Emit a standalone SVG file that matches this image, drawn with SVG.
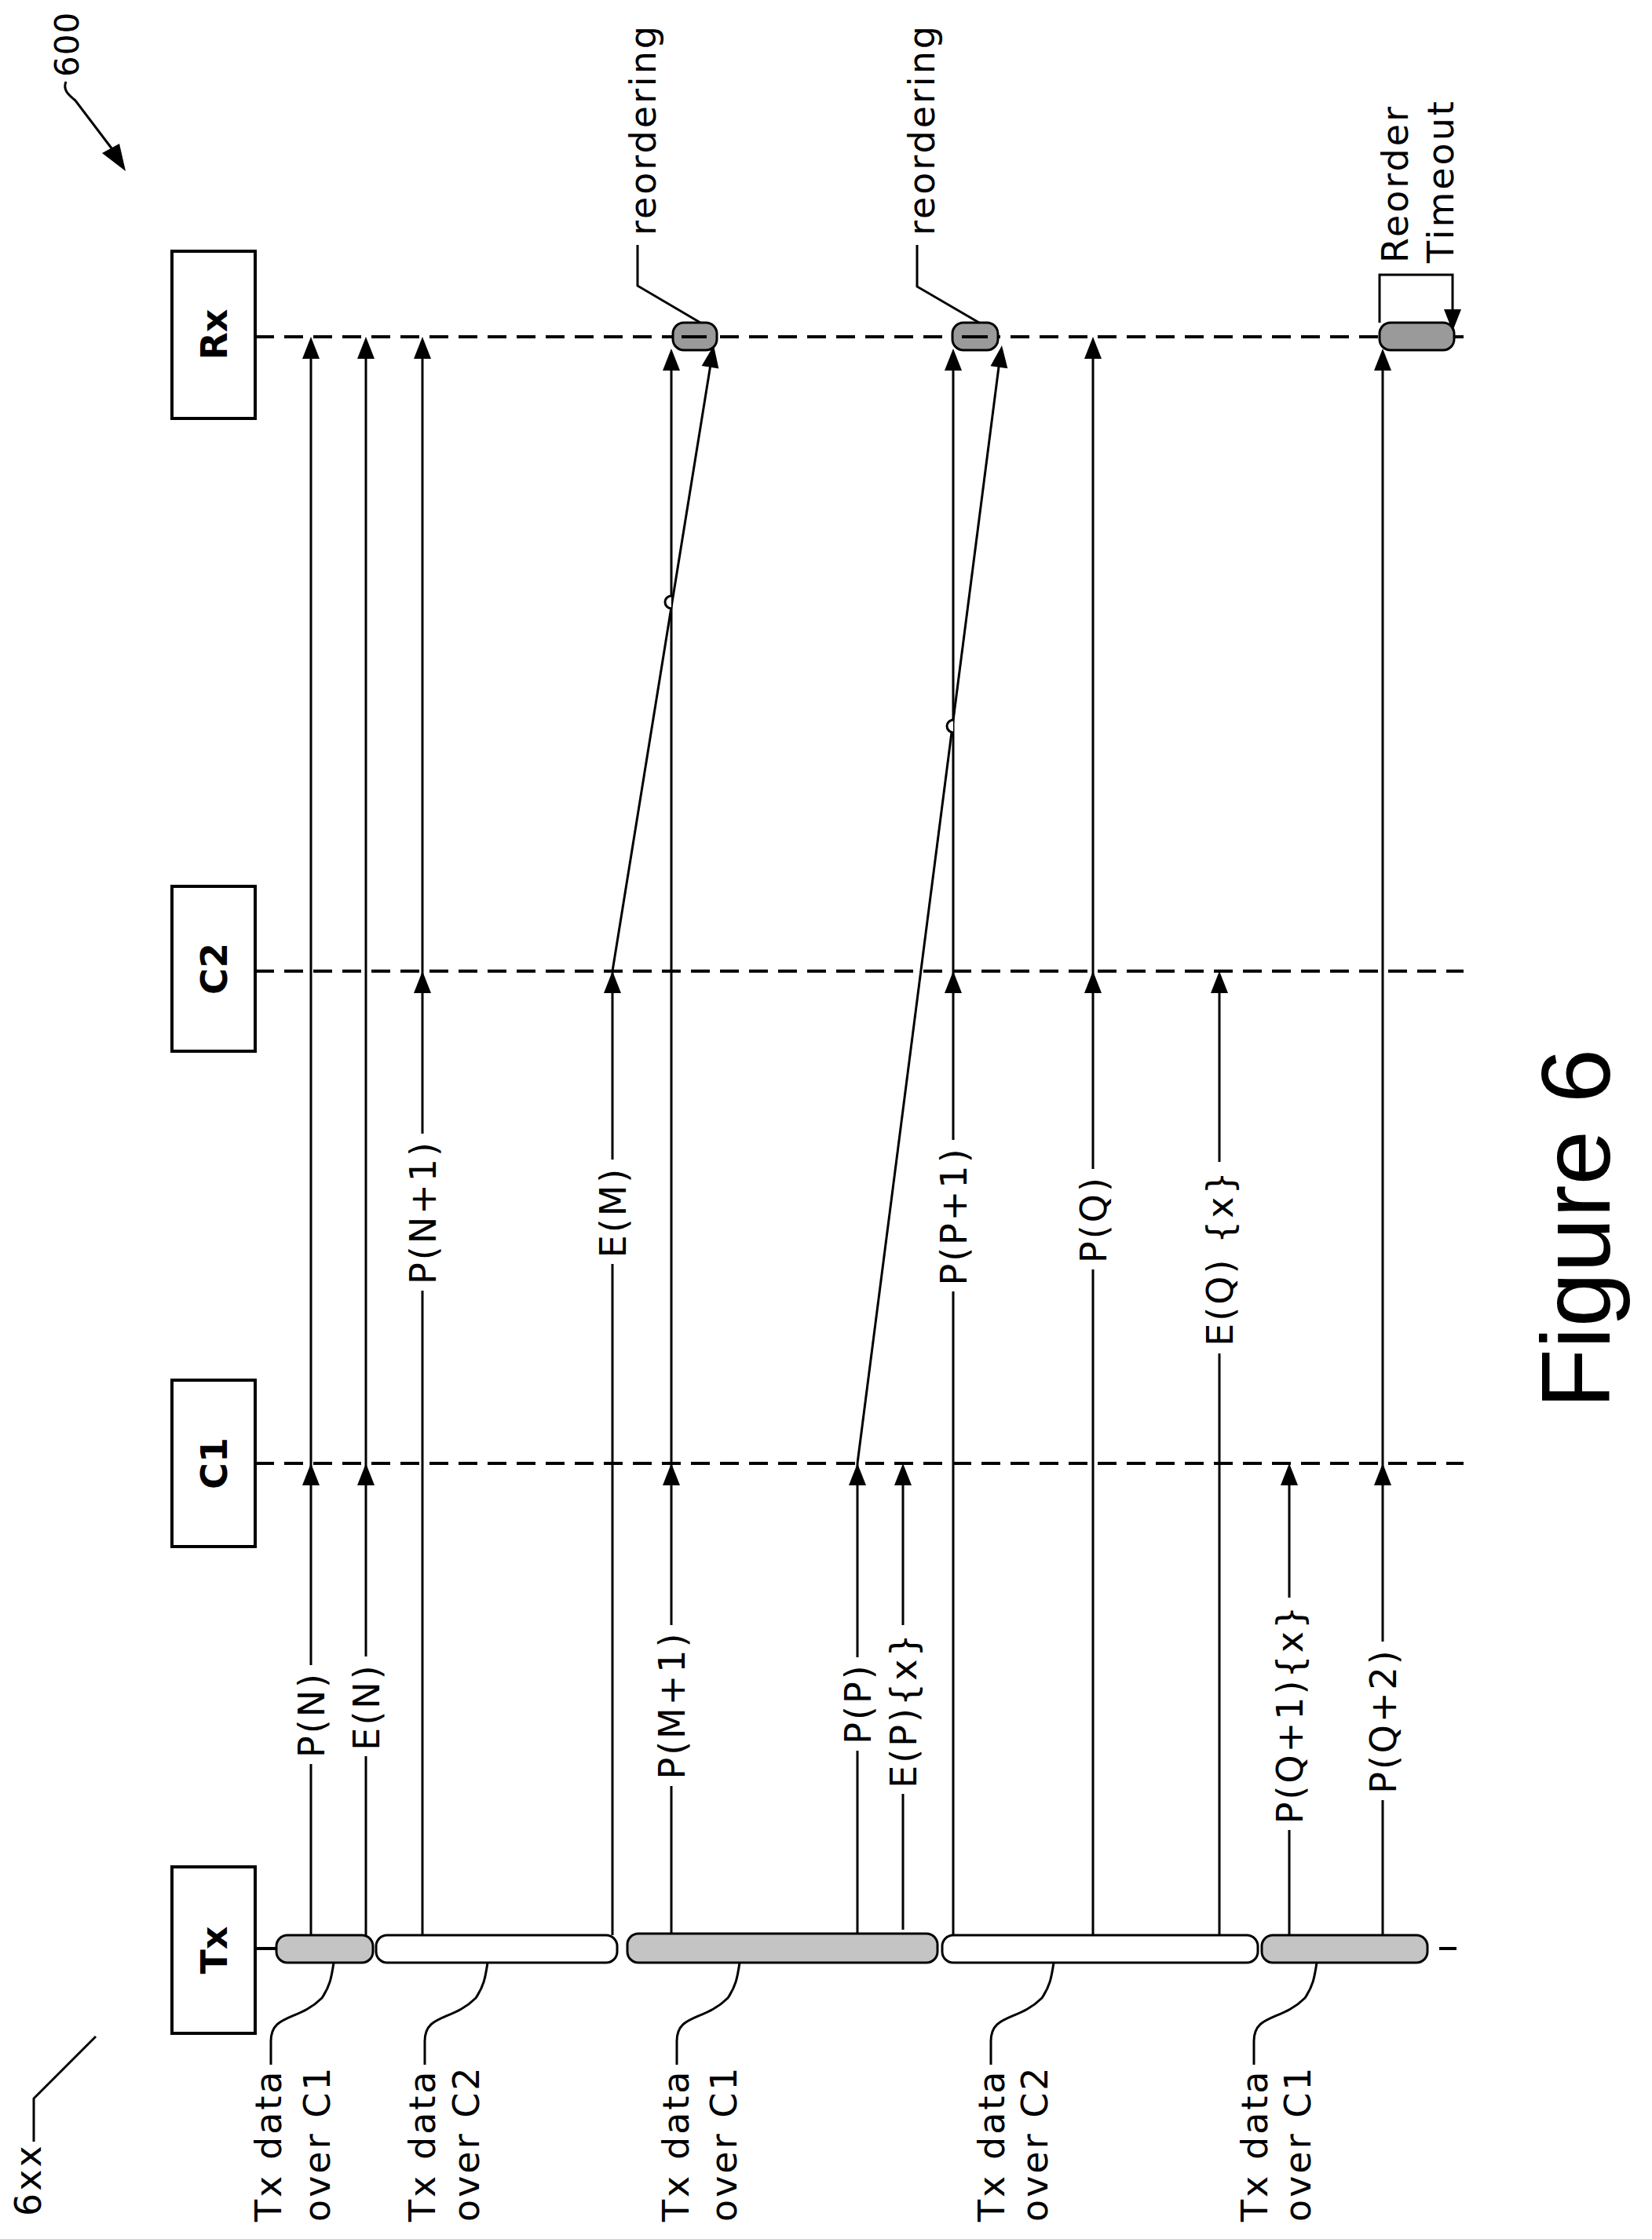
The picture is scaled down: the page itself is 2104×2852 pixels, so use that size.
<svg xmlns="http://www.w3.org/2000/svg" width="2104" height="2852" viewBox="0 0 2104 2852">
<style>
.t{font-family:"DejaVu Sans",Verdana,sans-serif;font-size:46px;letter-spacing:3px;fill:#000}
.b{font-family:"DejaVu Sans",Verdana,sans-serif;font-size:46px;font-weight:bold;fill:#000}
.box{fill:#fff;stroke:#000;stroke-width:4}
.life{stroke:#000;stroke-width:4;stroke-dasharray:24 13;fill:none}
.ln{stroke:#000;stroke-width:3;fill:none}
.pg{fill:#c4c4c4;stroke:#000;stroke-width:3}
.pw{fill:#fff;stroke:#000;stroke-width:3}
.pd{fill:#9a9a9a;stroke:#000;stroke-width:3}
.gap{fill:#fff}
</style>
<defs>
<path id="ah" d="M0,0 L-11,28 L11,28 Z" fill="#000"/>
</defs>
<rect width="2104" height="2852" fill="#fff"/>

<g id="lifelines">
<line class="life" x1="325" y1="429" x2="1864" y2="429"/>
<line class="life" x1="325" y1="1237" x2="1864" y2="1237"/>
<line class="life" x1="325" y1="1864" x2="1864" y2="1864"/>
<line class="ln" x1="325" y1="2482" x2="352" y2="2482" style="stroke-width:4"/>
<line class="ln" x1="1833" y1="2482" x2="1855" y2="2482" style="stroke-width:4"/>
</g>

<g id="Rx"><rect class="box" x="219" y="320" width="106" height="213"/><text class="b" transform="translate(289,426) rotate(-90)" text-anchor="middle">Rx</text></g>
<g id="C2"><rect class="box" x="219" y="1129" width="106" height="210"/><text class="b" transform="translate(289,1234) rotate(-90)" text-anchor="middle">C2</text></g>
<g id="C1"><rect class="box" x="219" y="1758" width="106" height="212"/><text class="b" transform="translate(289,1864) rotate(-90)" text-anchor="middle">C1</text></g>
<g id="Tx"><rect class="box" x="219" y="2378" width="106" height="212"/><text class="b" transform="translate(289,2484) rotate(-90)" text-anchor="middle">Tx</text></g>

<g id="connectors">
<line class="ln" x1="396" y1="2465" x2="396" y2="435"/>
<line class="ln" x1="466" y1="2465" x2="466" y2="435"/>
<line class="ln" x1="538" y1="2465" x2="538" y2="435"/>
<line class="ln" x1="780" y1="2465" x2="780" y2="1237"/>
<line class="ln" x1="780" y1="1237" x2="907" y2="452"/>
<line class="ln" x1="855" y1="2465" x2="855" y2="452"/>
<line class="ln" x1="1092" y1="2465" x2="1092" y2="1864"/>
<line class="ln" x1="1092" y1="1864" x2="1274" y2="452"/>
<line class="ln" x1="1150" y1="2458" x2="1150" y2="1870"/>
<line class="ln" x1="1214" y1="2465" x2="1214" y2="452"/>
<line class="ln" x1="1392" y1="2465" x2="1392" y2="435"/>
<line class="ln" x1="1553" y1="2465" x2="1553" y2="1243"/>
<line class="ln" x1="1642" y1="2465" x2="1642" y2="1870"/>
<line class="ln" x1="1761" y1="2465" x2="1761" y2="452"/>
<path class="ln" d="M855,759 A8,8 0 0 0 855,775" style="fill:#fff"/>
<path class="ln" d="M1214,917 A8,8 0 0 0 1214,933" style="fill:#fff"/>
<use href="#ah" x="396" y="1864"/><use href="#ah" x="396" y="429"/>
<use href="#ah" x="466" y="1864"/><use href="#ah" x="466" y="429"/>
<use href="#ah" x="538" y="1237"/><use href="#ah" x="538" y="429"/>
<use href="#ah" x="780" y="1237"/>
<use href="#ah" transform="translate(909,440) rotate(9.2)"/>
<use href="#ah" x="855" y="1864"/><use href="#ah" x="855" y="444"/>
<use href="#ah" x="1092" y="1864"/>
<use href="#ah" transform="translate(1276,440) rotate(7.35)"/>
<use href="#ah" x="1150" y="1864"/>
<use href="#ah" x="1214" y="1237"/><use href="#ah" x="1214" y="444"/>
<use href="#ah" x="1392" y="1237"/><use href="#ah" x="1392" y="429"/>
<use href="#ah" x="1553" y="1237"/>
<use href="#ah" x="1642" y="1864"/>
<use href="#ah" x="1761" y="1864"/><use href="#ah" x="1761" y="444"/>
</g>

<g id="labels">
<rect class="gap" x="374" y="2121" width="44" height="126"/><text class="t" transform="translate(413,2184) rotate(-90)" text-anchor="middle">P(N)</text>
<rect class="gap" x="444" y="2110" width="44" height="127"/><text class="t" transform="translate(483,2174) rotate(-90)" text-anchor="middle">E(N)</text>
<rect class="gap" x="516" y="1444" width="44" height="200"/><text class="t" transform="translate(555,1544) rotate(-90)" text-anchor="middle">P(N+1)</text>
<rect class="gap" x="758" y="1477" width="44" height="133"/><text class="t" transform="translate(797,1544) rotate(-90)" text-anchor="middle">E(M)</text>
<rect class="gap" x="833" y="2070" width="44" height="205"/><text class="t" transform="translate(872,2172) rotate(-90)" text-anchor="middle">P(M+1)</text>
<rect class="gap" x="1070" y="2111" width="44" height="119"/><text class="t" transform="translate(1109,2170) rotate(-90)" text-anchor="middle">P(P)</text>
<rect class="gap" x="1128" y="2070" width="44" height="215"/><text class="t" transform="translate(1167,2178) rotate(-90)" text-anchor="middle">E(P){x}</text>
<rect class="gap" x="1192" y="1452" width="44" height="193"/><text class="t" transform="translate(1231,1549) rotate(-90)" text-anchor="middle">P(P+1)</text>
<rect class="gap" x="1370" y="1489" width="44" height="128"/><text class="t" transform="translate(1409,1553) rotate(-90)" text-anchor="middle">P(Q)</text>
<rect class="gap" x="1531" y="1480" width="44" height="244"/><text class="t" transform="translate(1570,1602) rotate(-90)" text-anchor="middle">E(Q) {x}</text>
<rect class="gap" x="1620" y="2035" width="44" height="296"/><text class="t" transform="translate(1659,2183) rotate(-90)" text-anchor="middle">P(Q+1){x}</text>
<rect class="gap" x="1739" y="2091" width="44" height="202"/><text class="t" transform="translate(1778,2192) rotate(-90)" text-anchor="middle">P(Q+2)</text>
</g>

<g id="txsegments">
<rect class="pg" x="352" y="2465" width="123" height="35" rx="14"/>
<rect class="pw" x="479" y="2465" width="307" height="35" rx="14"/>
<rect class="pg" x="799" y="2463" width="395" height="37" rx="14"/>
<rect class="pw" x="1200" y="2465" width="402" height="35" rx="14"/>
<rect class="pg" x="1607" y="2465" width="211" height="35" rx="14"/>
</g>

<g id="txlabels">
<path class="ln" d="M345,2630 V2600 C345,2565 380,2575 410,2545 C420,2530 422,2520 425,2500"/>
<text class="t" transform="translate(358,2830) rotate(-90)">Tx data</text>
<text class="t" transform="translate(420,2830) rotate(-90)">over C1</text>
<path class="ln" d="M541,2630 V2600 C541,2565 576,2575 606,2545 C616,2530 618,2520 621,2500"/>
<text class="t" transform="translate(554,2830) rotate(-90)">Tx data</text>
<text class="t" transform="translate(610,2830) rotate(-90)">over C2</text>
<path class="ln" d="M862,2630 V2600 C862,2565 897,2575 927,2545 C937,2530 939,2520 942,2500"/>
<text class="t" transform="translate(877,2830) rotate(-90)">Tx data</text>
<text class="t" transform="translate(938,2830) rotate(-90)">over C1</text>
<path class="ln" d="M1262,2630 V2600 C1262,2565 1297,2575 1327,2545 C1337,2530 1339,2520 1342,2500"/>
<text class="t" transform="translate(1279,2830) rotate(-90)">Tx data</text>
<text class="t" transform="translate(1334,2830) rotate(-90)">over C2</text>
<path class="ln" d="M1597,2630 V2600 C1597,2565 1632,2575 1662,2545 C1672,2530 1674,2520 1677,2500"/>
<text class="t" transform="translate(1614,2830) rotate(-90)">Tx data</text>
<text class="t" transform="translate(1669,2830) rotate(-90)">over C1</text>
</g>

<g id="reordering1">
<rect class="pd" x="857" y="411" width="56" height="35" rx="14"/>
<line class="ln" x1="868" y1="429" x2="900" y2="429" style="stroke-width:4"/>
<path class="ln" d="M812,312 V364 L892,411"/>
<text class="t" transform="translate(835,300) rotate(-90)">reordering</text>
</g>
<g id="reordering2">
<rect class="pd" x="1213" y="411" width="58" height="35" rx="14"/>
<line class="ln" x1="1225" y1="429" x2="1258" y2="429" style="stroke-width:4"/>
<path class="ln" d="M1168,312 V365 L1247,411"/>
<text class="t" transform="translate(1190,300) rotate(-90)">reordering</text>
</g>
<g id="timeout">
<rect class="pd" x="1757" y="411" width="95" height="35" rx="14"/>
<path class="ln" d="M1757,411 V350 H1850 V400"/>
<path d="M1850,422 L1839,394 L1861,394 Z" fill="#000"/>
<text class="t" transform="translate(1793,335) rotate(-90)">Reorder</text>
<text class="t" transform="translate(1851,335) rotate(-90)">Timeout</text>
</g>

<g id="refs">
<text class="t" transform="translate(100,98) rotate(-90)" style="font-size:42px;letter-spacing:1px">600</text>
<path class="ln" d="M84,104 C80,114 86,120 96,128 L146,194"/>
<path d="M160,218 L130,195 L152,183 Z" fill="#000"/>
<text class="t" transform="translate(52,2823) rotate(-90)">6xx</text>
<path class="ln" d="M43,2728 V2673 L122,2594"/>
<text transform="translate(2050,1565) rotate(-90)" text-anchor="middle" style="font-family:'Liberation Sans',Arial,sans-serif;font-size:125px">Figure 6</text>
</g>
</svg>
